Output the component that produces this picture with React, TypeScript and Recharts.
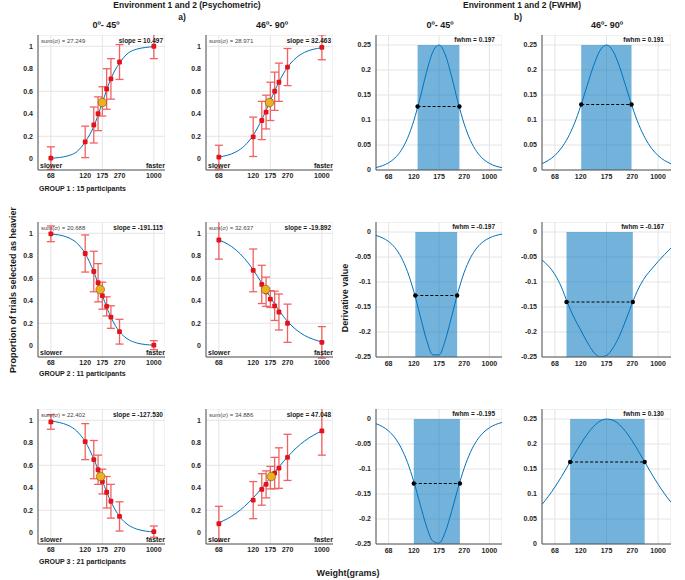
import React from 'react'
import {
  ComposedChart,
  Line,
  Scatter,
  ErrorBar,
  XAxis,
  YAxis,
  CartesianGrid,
  ReferenceArea,
} from 'recharts'

const FONT = '"Liberation Sans", Arial, Helvetica, sans-serif'

// stimulus positions on the (non linear) weight axis
const stimPos = [0, 4, 5, 5.5, 6, 6.5, 7, 8, 12]
const weightTicks = [0, 4, 6, 8, 12]
const weightLabels = ['68', '120', '175', '270', '1000']
const fitX = [0, 1, 2, 3, 4, 5, 6, 7, 8, 9, 10, 11, 12]

// GROUP 1
const g1aMean = [0.006, 0.15, 0.3, 0.4, 0.51, 0.62, 0.71, 0.86, 1.0]
const g1aErr = [0.1, 0.14, 0.16, 0.15, 0.13, 0.18, 0.18, 0.155, 0.11]
const g1aFit = [0.005, 0.011, 0.026, 0.061, 0.15, 0.287, 0.5, 0.713, 0.85, 0.939, 0.974, 0.989, 0.996]
const g1aPse = 6.0
const g1bMean = [0.015, 0.195, 0.34, 0.415, 0.51, 0.6, 0.68, 0.815, 0.99]
const g1bErr = [0.105, 0.175, 0.17, 0.15, 0.17, 0.17, 0.17, 0.165, 0.11]
const g1bFit = [0.016, 0.031, 0.061, 0.116, 0.209, 0.348, 0.517, 0.683, 0.813, 0.897, 0.946, 0.973, 0.986]
const g1bPse = 5.9

// GROUP 2
const g2aMean = [0.995, 0.82, 0.66, 0.56, 0.445, 0.35, 0.255, 0.125, 0.005]
const g2aErr = [0.07, 0.165, 0.18, 0.17, 0.12, 0.085, 0.1, 0.11, 0.04]
const g2aFit = [0.993, 0.984, 0.962, 0.915, 0.82, 0.657, 0.446, 0.253, 0.125, 0.057, 0.025, 0.011, 0.005]
const g2aPse = 5.75
const g2bMean = [0.94, 0.67, 0.545, 0.48, 0.415, 0.355, 0.3, 0.2, 0.03]
const g2bErr = [0.17, 0.19, 0.17, 0.13, 0.075, 0.13, 0.16, 0.17, 0.14]
const g2bFit = [0.94, 0.905, 0.851, 0.775, 0.675, 0.556, 0.431, 0.314, 0.216, 0.143, 0.091, 0.057, 0.035]
const g2bPse = 5.45

// GROUP 3
const g3aMean = [0.985, 0.81, 0.65, 0.56, 0.455, 0.36, 0.28, 0.145, 0.01]
const g3aErr = [0.065, 0.16, 0.17, 0.13, 0.11, 0.14, 0.15, 0.13, 0.05]
const g3aFit = [0.991, 0.98, 0.955, 0.905, 0.81, 0.656, 0.46, 0.275, 0.145, 0.07, 0.033, 0.015, 0.007]
const g3aPse = 5.8
const g3bMean = [0.08, 0.29, 0.385, 0.43, 0.49, 0.53, 0.575, 0.67, 0.905]
const g3bErr = [0.155, 0.165, 0.14, 0.12, 0.1, 0.14, 0.18, 0.205, 0.215]
const g3bFit = [0.089, 0.125, 0.173, 0.235, 0.31, 0.397, 0.49, 0.585, 0.674, 0.752, 0.816, 0.866, 0.905]
const g3bPse = 6.1

// FWHM (derivative) curves
const derivX = [-0.5, -0.25, 0, 0.25, 0.5, 0.75, 1, 1.25, 1.5, 1.75, 2, 2.25, 2.5, 2.75, 3, 3.25, 3.5, 3.75, 4, 4.25, 4.5]
const d1a = [0.005, 0.0085, 0.0144, 0.024, 0.0394, 0.0634, 0.0984, 0.1442, 0.1947, 0.2356, 0.2499, 0.2305, 0.1868, 0.1362, 0.092, 0.0589, 0.0365, 0.0221, 0.0132, 0.0078, 0.0047]
const d1b = [0.0127, 0.0194, 0.0292, 0.0438, 0.0644, 0.0923, 0.1279, 0.1687, 0.2088, 0.239, 0.25, 0.2381, 0.2074, 0.167, 0.1263, 0.091, 0.0635, 0.0432, 0.0288, 0.019, 0.0125]
const d2a = [-0.0069, -0.0116, -0.0191, -0.0313, -0.0505, -0.0793, -0.1188, -0.1671, -0.2147, -0.2455, -0.2461, -0.2163, -0.1693, -0.1208, -0.0808, -0.0515, -0.032, -0.0195, -0.0119, -0.0071, -0.0042]
const d2b = [-0.056, -0.068, -0.085, -0.11, -0.143, -0.172, -0.196, -0.22, -0.24, -0.25, -0.247, -0.232, -0.208, -0.176, -0.142, -0.112, -0.09, -0.074, -0.059, -0.045, -0.032]
const d3a = [-0.0094, -0.0151, -0.0239, -0.0376, -0.058, -0.0869, -0.1252, -0.1703, -0.2141, -0.2438, -0.2483, -0.2258, -0.185, -0.1392, -0.0982, -0.0662, -0.0432, -0.0277, -0.0175, -0.011, -0.0069]
const d3b = [0.0791, 0.0954, 0.1139, 0.1343, 0.1561, 0.1785, 0.2, 0.2194, 0.2352, 0.2457, 0.2499, 0.2475, 0.2387, 0.2243, 0.2058, 0.1846, 0.1623, 0.1403, 0.1195, 0.1004, 0.0835]
const halfMaxX = [[1.15, 2.81], [1.02, 2.97], [1.06, 2.72], [0.45, 3.02], [1.0, 2.83], [0.59, 3.48]]
const halfMaxY = [0.127, 0.131, -0.127, -0.14, -0.129, 0.164]
const posTicks = [0, 0.05, 0.1, 0.15, 0.2, 0.25]
const negTicks = [-0.25, -0.2, -0.15, -0.1, -0.05, 0]

const Y_W = 36
const X_H = 18
const tickStyle = { fontSize: 7, fontWeight: 700, fill: '#262626', fontFamily: FONT }

function Txt({ x, y, children, size = 7, weight = 700, anchor = 'start', color = '#1a1a1a', rotate = false }: any) {
  const tx = anchor === 'middle' ? '-50%' : anchor === 'end' ? '-100%' : '0'
  return (
    <div
      style={{
        position: 'absolute',
        left: x,
        top: y,
        transform: `translate(${tx}, -50%)` + (rotate ? ' rotate(-90deg)' : ''),
        fontFamily: FONT,
        fontSize: size,
        fontWeight: weight,
        color,
        whiteSpace: 'nowrap',
        lineHeight: 1,
      }}
    >
      {children}
    </div>
  )
}

const RedDot = (p: any) => <rect x={p.cx - 2.4} y={p.cy - 2.4} width={4.8} height={4.8} rx={1.2} fill="#e4131b" />
const PseDot = (p: any) => <circle cx={p.cx} cy={p.cy} r={4.3} fill="#EDB120" stroke="#6b5210" strokeWidth={0.6} />
const BlackDot = (p: any) => <circle cx={p.cx} cy={p.cy} r={2.2} fill="#000" />

function PsychPanel({ left, top, w, h, mean, err, fit, pse, sum, slope }: any) {
  const pts = stimPos.map((x, i) => ({ x, y: mean[i], err: err[i] }))
  const curve = fitX.map((x, i) => ({ x, y: fit[i] }))
  return (
    <div style={{ position: 'absolute', left: left - Y_W, top, width: w + Y_W, height: h + X_H }}>
      <ComposedChart width={w + Y_W} height={h + X_H} margin={{ top: 0, right: 0, bottom: 0, left: 0 }}>
        <CartesianGrid stroke="#e4e4e4" />
        <XAxis
          dataKey="x"
          type="number"
          domain={[-1.5, 13.3]}
          ticks={weightTicks}
          tickFormatter={(v: number) => weightLabels[weightTicks.indexOf(v)]}
          allowDataOverflow
          height={X_H}
          tickSize={0}
          tickMargin={3}
          tick={tickStyle}
          stroke="#555"
        />
        <YAxis
          type="number"
          domain={[-0.1, 1.1]}
          ticks={[0, 0.2, 0.4, 0.6, 0.8, 1]}
          allowDataOverflow
          width={Y_W}
          tickSize={0}
          tickMargin={5}
          tick={tickStyle}
          stroke="#555"
        />
        <Line data={curve} dataKey="y" type="monotone" stroke="#0072BD" strokeWidth={1} dot={false} isAnimationActive={false} />
        <Scatter data={pts} dataKey="y" shape={RedDot} isAnimationActive={false}>
          <ErrorBar dataKey="err" direction="y" width={4} stroke="#f06262" strokeWidth={1.3} />
        </Scatter>
        <Scatter data={[{ x: pse, y: 0.5 }]} dataKey="y" shape={PseDot} isAnimationActive={false} />
      </ComposedChart>
      <Txt x={Y_W + 3} y={6} size={6} weight={400} color="#444">sum(σ) = {sum}</Txt>
      <Txt x={Y_W + w - 2} y={6} size={6.5} anchor="end">slope = {slope}</Txt>
      <Txt x={Y_W + 2} y={h - 5.5} size={7}>slower</Txt>
      <Txt x={Y_W + w} y={h - 5.5} size={7} anchor="end">faster</Txt>
    </div>
  )
}

function FwhmPanel({ left, top, w, h, fit, idx, label }: any) {
  const neg = halfMaxY[idx] < 0
  const curve = derivX.map((x, i) => ({ x, y: fit[i] }))
  const half = halfMaxX[idx].map((x: number) => ({ x, y: halfMaxY[idx] }))
  return (
    <div style={{ position: 'absolute', left: left - Y_W, top, width: w + Y_W, height: h + X_H }}>
      <ComposedChart width={w + Y_W} height={h + X_H} margin={{ top: 0, right: 0, bottom: 0, left: 0 }}>
        <CartesianGrid stroke="#e4e4e4" />
        <XAxis
          dataKey="x"
          type="number"
          domain={[-0.5, 4.5]}
          ticks={[0, 1, 2, 3, 4]}
          tickFormatter={(v: number) => weightLabels[v]}
          allowDataOverflow
          height={X_H}
          tickSize={0}
          tickMargin={4}
          tick={tickStyle}
          stroke="#555"
        />
        <YAxis
          type="number"
          domain={neg ? [-0.25, 0.02] : [0, 0.27]}
          ticks={neg ? negTicks : posTicks}
          allowDataOverflow
          width={Y_W}
          tickSize={0}
          tickMargin={5}
          tick={tickStyle}
          stroke="#555"
        />
        <Line data={curve} dataKey="y" type="monotone" stroke="#0072BD" strokeWidth={1} dot={false} isAnimationActive={false} />
        <ReferenceArea
          x1={halfMaxX[idx][0]}
          x2={halfMaxX[idx][1]}
          y1={neg ? -0.25 : 0}
          y2={neg ? 0 : 0.25}
          fill="#0072BD"
          fillOpacity={0.55}
          stroke="none"
        />
        <Line data={half} dataKey="y" stroke="#000" strokeWidth={1} strokeDasharray="3 2" dot={BlackDot} isAnimationActive={false} />
      </ComposedChart>
      <Txt x={Y_W + w - 7} y={4.5} size={6.5} anchor="end">fwhm = {label}</Txt>
    </div>
  )
}

export default function App() {
  const rows = [35, 222, 409]
  const H = 135
  return (
    <div style={{ position: 'absolute', left: 0, top: 0, width: 685, height: 580, background: '#fff', overflow: 'hidden' }}>
      <Txt x={187} y={5} size={8.5} anchor="middle">Environment 1 and 2 (Psychometric)</Txt>
      <Txt x={182} y={17} size={8.5} anchor="middle">a)</Txt>
      <Txt x={522} y={5} size={8.5} anchor="middle">Environment 1 and 2 (FWHM)</Txt>
      <Txt x={518} y={17} size={8.5} anchor="middle">b)</Txt>
      <Txt x={106} y={25} size={9} anchor="middle">0º- 45º</Txt>
      <Txt x={272} y={25} size={9} anchor="middle">46º- 90º</Txt>
      <Txt x={440} y={25} size={9} anchor="middle">0º- 45º</Txt>
      <Txt x={607} y={25} size={9} anchor="middle">46º- 90º</Txt>

      <PsychPanel left={38} top={rows[0]} w={127} h={H} mean={g1aMean} err={g1aErr} fit={g1aFit} pse={g1aPse} sum="27.249" slope="10.497" />
      <PsychPanel left={206} top={rows[0]} w={127} h={H} mean={g1bMean} err={g1bErr} fit={g1bFit} pse={g1bPse} sum="28.971" slope="32.463" />
      <PsychPanel left={38} top={rows[1]} w={127} h={H} mean={g2aMean} err={g2aErr} fit={g2aFit} pse={g2aPse} sum="20.688" slope="-191.115" />
      <PsychPanel left={206} top={rows[1]} w={127} h={H} mean={g2bMean} err={g2bErr} fit={g2bFit} pse={g2bPse} sum="32.637" slope="-19.892" />
      <PsychPanel left={38} top={rows[2]} w={127} h={H} mean={g3aMean} err={g3aErr} fit={g3aFit} pse={g3aPse} sum="22.402" slope="-127.530" />
      <PsychPanel left={206} top={rows[2]} w={127} h={H} mean={g3bMean} err={g3bErr} fit={g3bFit} pse={g3bPse} sum="34.886" slope="47.048" />

      <FwhmPanel left={376} top={rows[0]} w={126} h={H} fit={d1a} idx={0} label="0.197" />
      <FwhmPanel left={542} top={rows[0]} w={129} h={H} fit={d1b} idx={1} label="0.191" />
      <FwhmPanel left={376} top={rows[1]} w={126} h={H} fit={d2a} idx={2} label="-0.197" />
      <FwhmPanel left={542} top={rows[1]} w={129} h={H} fit={d2b} idx={3} label="-0.167" />
      <FwhmPanel left={376} top={rows[2]} w={126} h={H} fit={d3a} idx={4} label="-0.195" />
      <FwhmPanel left={542} top={rows[2]} w={129} h={H} fit={d3b} idx={5} label="0.130" />

      <Txt x={39} y={188} size={7}>GROUP 1 : 15 participants</Txt>
      <Txt x={39} y={373} size={7}>GROUP 2 : 11 participants</Txt>
      <Txt x={39} y={561} size={7}>GROUP 3 : 21 participants</Txt>

      <Txt x={13} y={290} size={9} anchor="middle" rotate>Proportion of trials selected as heavier</Txt>
      <Txt x={345} y={298} size={9} anchor="middle" rotate>Derivative value</Txt>
      <Txt x={348} y={573} size={9} anchor="middle">Weight(grams)</Txt>
    </div>
  )
}
